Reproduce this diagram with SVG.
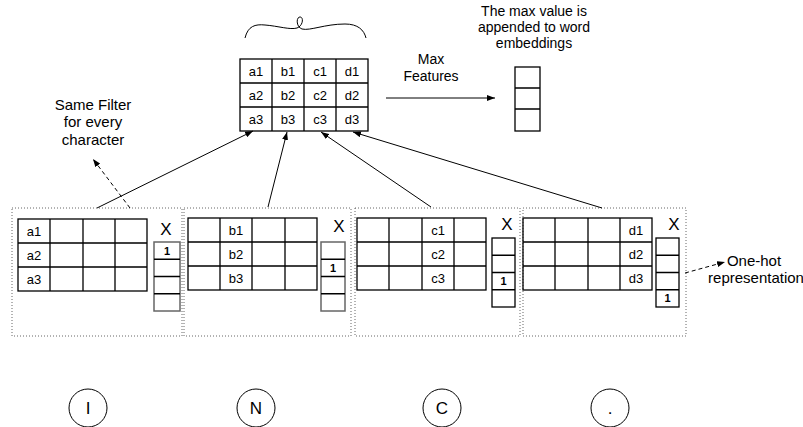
<svg xmlns="http://www.w3.org/2000/svg" width="803" height="427" viewBox="0 0 803 427">
<style>
text{font-family:"Liberation Sans",Arial,sans-serif;fill:#000}
.lbl{font-size:15px;text-anchor:middle}
.lbs{font-size:14px;text-anchor:middle}
.chr{font-size:17px;text-anchor:middle}
.cell{font-size:13px;text-anchor:middle}
.one{font-size:11px;font-weight:bold;text-anchor:middle}
.x{font-size:17px;text-anchor:middle}
.grid{fill:none;stroke:#000;stroke-width:1.3}
.vec{fill:none;stroke:#000;stroke-width:1.3}
.vecg{fill:none;stroke:#666;stroke-width:1.5}
.dot{fill:none;stroke:#666;stroke-width:1;stroke-dasharray:1 2}
.conn{fill:none;stroke:#000;stroke-width:1}
.dash{fill:none;stroke:#000;stroke-width:1;stroke-dasharray:4 3}
.circ{fill:none;stroke:#000;stroke-width:1}
</style>
<defs>
<marker id="ah" viewBox="0 0 8 6" refX="8" refY="3" markerWidth="8" markerHeight="6" markerUnits="userSpaceOnUse" orient="auto">
<path d="M0,0 L8,3 L0,6 z" fill="#000"/>
</marker>
</defs>

<g id="brace">
<path class="conn" d="M245,38 C248,26 255,24 265,25 C278,26 290,30 297,28 C303,26 304,17 300,17 C296,17 296,27 302,29 C310,31 325,24 345,24 C358,24 364,30 366,38"/>
</g>

<g id="top-matrix">
<rect class="grid" x="240" y="59" width="128" height="72"/>
<path class="grid" d="M272,59V131M304,59V131M336,59V131M240,83H368M240,107H368"/>
<text class="cell" x="256" y="76">a1</text><text class="cell" x="288" y="76">b1</text><text class="cell" x="320" y="76">c1</text><text class="cell" x="352" y="76">d1</text>
<text class="cell" x="256" y="100">a2</text><text class="cell" x="288" y="100">b2</text><text class="cell" x="320" y="100">c2</text><text class="cell" x="352" y="100">d2</text>
<text class="cell" x="256" y="124">a3</text><text class="cell" x="288" y="124">b3</text><text class="cell" x="320" y="124">c3</text><text class="cell" x="352" y="124">d3</text>
</g>

<g id="max-features-label">
<text class="lbs" x="431" y="64">Max</text>
<text class="lbs" x="431" y="81">Features</text>
</g>

<g id="output-vector">
<rect class="vec" x="515" y="67" width="25" height="64"/>
<path class="vec" d="M515,88H540M515,109H540"/>
</g>

<g id="appended-label">
<text class="lbs" x="534" y="16">The max value is</text>
<text class="lbs" x="534" y="32">appended to word</text>
<text class="lbs" x="534" y="48">embeddings</text>
</g>

<g id="same-filter-label">
<text class="lbl" x="93" y="110">Same Filter</text>
<text class="lbl" x="93" y="127">for every</text>
<text class="lbl" x="93" y="145">character</text>
</g>

<g id="onehot-label">
<text class="lbl" x="754" y="266">One-hot</text>
<text class="lbl" x="756" y="283">representation</text>
</g>

<g id="box-I">
<rect class="dot" x="12" y="208" width="170" height="128"/>
<rect class="grid" x="18" y="219" width="129" height="72"/>
<path class="grid" d="M50,219V291M83,219V291M115,219V291M18,243H147M18,267H147"/>
<text class="cell" x="34" y="236">a1</text><text class="cell" x="34" y="260">a2</text><text class="cell" x="34" y="284">a3</text>
<text class="x" x="166" y="235">X</text>
<rect class="vecg" x="154" y="242" width="26" height="69"/>
<path class="vec" d="M154,259.25H180M154,276.5H180M154,293.75H180"/>
<text class="one" x="167" y="255">1</text>
</g>

<g id="box-N">
<rect class="dot" x="184" y="208" width="167" height="128"/>
<rect class="grid" x="188" y="218" width="129" height="72"/>
<path class="grid" d="M220,218V290M252,218V290M285,218V290M188,242H317M188,266H317"/>
<text class="cell" x="236" y="235">b1</text><text class="cell" x="236" y="259">b2</text><text class="cell" x="236" y="283">b3</text>
<text class="x" x="339" y="232">X</text>
<rect class="vecg" x="321" y="242" width="24" height="69"/>
<path class="vec" d="M321,259.25H345M321,276.5H345M321,293.75H345"/>
<text class="one" x="333" y="272">1</text>
</g>

<g id="box-C">
<rect class="dot" x="355" y="208" width="165" height="128"/>
<rect class="grid" x="357" y="218" width="129" height="72"/>
<path class="grid" d="M389,218V290M422,218V290M454,218V290M357,242H486M357,266H486"/>
<text class="cell" x="438" y="235">c1</text><text class="cell" x="438" y="259">c2</text><text class="cell" x="438" y="283">c3</text>
<text class="x" x="507" y="230">X</text>
<rect class="vec" x="492" y="238" width="23" height="69"/>
<path class="vec" d="M492,255.25H515M492,272.5H515M492,289.75H515"/>
<text class="one" x="503.5" y="285">1</text>
</g>

<g id="box-dot">
<rect class="dot" x="523" y="208" width="163" height="128"/>
<rect class="grid" x="523" y="218" width="129" height="72"/>
<path class="grid" d="M555,218V290M588,218V290M620,218V290M523,242H652M523,266H652"/>
<text class="cell" x="636" y="235">d1</text><text class="cell" x="636" y="259">d2</text><text class="cell" x="636" y="283">d3</text>
<text class="x" x="674" y="230">X</text>
<rect class="vec" x="656" y="238" width="23" height="69"/>
<path class="vec" d="M656,255.25H679M656,272.5H679M656,289.75H679"/>
<text class="one" x="667.5" y="302">1</text>
</g>

<g id="char-I"><circle class="circ" cx="88" cy="408" r="19"/><text class="chr" x="88" y="414">I</text></g>
<g id="char-N"><circle class="circ" cx="256" cy="408" r="19"/><text class="chr" x="256" y="414">N</text></g>
<g id="char-C"><circle class="circ" cx="442" cy="408" r="19"/><text class="chr" x="442" y="414">C</text></g>
<g id="char-period"><circle class="circ" cx="610" cy="408" r="19"/><text class="chr" x="610" y="414">.</text></g>

<g id="connectors">
<line class="conn" x1="97" y1="208" x2="253" y2="131" marker-end="url(#ah)"/>
<line class="conn" x1="268" y1="207" x2="287" y2="132" marker-end="url(#ah)"/>
<line class="conn" x1="431" y1="207" x2="321" y2="132" marker-end="url(#ah)"/>
<line class="conn" x1="602" y1="208" x2="353" y2="132" marker-end="url(#ah)"/>
<line class="conn" x1="386" y1="98" x2="495" y2="98" marker-end="url(#ah)"/>
<line class="dash" x1="130" y1="208" x2="93" y2="159" marker-end="url(#ah)"/>
<line class="dash" x1="685" y1="273" x2="725" y2="262" marker-end="url(#ah)"/>
</g>
</svg>
